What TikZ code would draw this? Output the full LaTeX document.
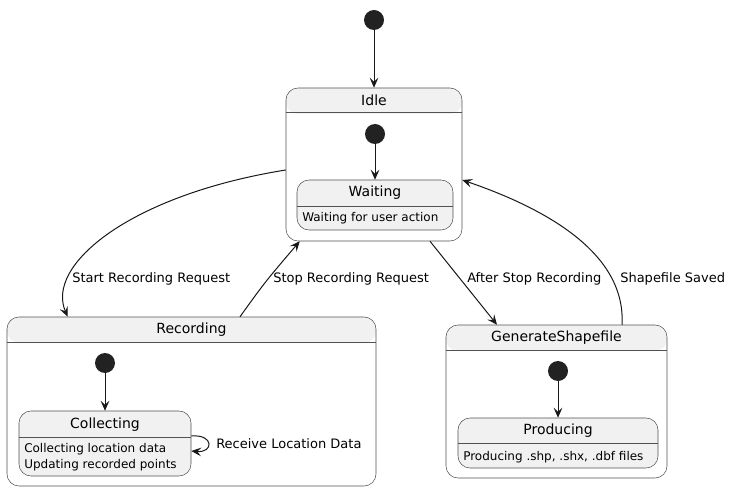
\documentclass[tikz,border=0pt]{standalone}
\usepackage{fontspec}
\setmainfont{DejaVu Sans}
\usetikzlibrary{arrows.meta,positioning,calc,fit}
\usepackage{xcolor}
\definecolor{stategray}{HTML}{F1F1F1}
\definecolor{lineblack}{HTML}{181818}
\definecolor{dotblack}{HTML}{222222}

\begin{document}
\begin{tikzpicture}[x=0.75pt,y=-0.75pt,
	composite/.style={draw=lineblack!75,line width=0.4pt,rounded corners=9pt,inner sep=0pt,fill=white,
		path picture={\fill[stategray] (path picture bounding box.north west) rectangle ([yshift=-19.5pt]path picture bounding box.north east);}},
	simple/.style={draw=lineblack!75,line width=0.4pt,rounded corners=9pt,inner sep=0pt,fill=stategray},
	sepline/.style={draw=lineblack!75,line width=0.4pt},
	initdot/.style={circle,fill=dotblack,minimum size=15pt,inner sep=0pt},
	title/.style={font=\fontsize{10.5}{12}\selectfont,inner sep=0pt},
	desc/.style={font=\fontsize{9}{12}\selectfont,inner sep=0pt,anchor=west,align=left},
	edgelabel/.style={font=\fontsize{9.75}{12}\selectfont,inner sep=0pt,anchor=west},
	trans/.style={-{Stealth[length=7.5pt,width=6.5pt,inset=3pt]},draw=lineblack,line width=0.75pt}]
	\useasboundingbox (0,0) rectangle (730,491);
	% states
	\node[composite,fit={(286,88) (462,241)}] (idle) {};
	\node[composite,fit={(7,317) (376,486)}] (rec) {};
	\node[composite,fit={(446,325) (667,478)}] (gen) {};
	\node[simple,fit={(297,180) (453,230)}] (waiting) {};
	\node[simple,fit={(19,411) (191,476)}] (coll) {};
	\node[simple,fit={(458,418) (658,468)}] (prod) {};
	\foreach \s/\h in {idle/25,rec/26,gen/26,waiting/27,coll/27,prod/26}
		\draw[sepline] ($(\s.north west)+(0,\h)$) -- ($(\s.north east)+(0,\h)$);
	% titles
	\node[title] (idlet) at ($(idle.north)+(0,12.5)$) {Idle};
	\node[title] (rect) at ($(rec.north)+(0,13)$) {Recording};
	\node[title] (gent) at ($(gen.north)+(0,13)$) {GenerateShapefile};
	\node[title] (waitingt) at ($(waiting.north)+(0,13)$) {Waiting};
	\node[title] (collt) at ($(coll.north)+(0,13.5)$) {Collecting};
	\node[title] (prodt) at ($(prod.north)+(0,13)$) {Producing};
	\node[desc] (waitingd) at (302,218) {Waiting for user action};
	\node[desc] (colld) at (24,457) {Collecting location data\\Updating recorded points};
	\node[desc] (prodd) at (463,457) {Producing .shp, .shx, .dbf files};
	% initial points
	\node[initdot] (start) at (374,20) {};
	\node[initdot] (idlei) at (375,134) {};
	\node[initdot] (reci) at (105,363) {};
	\node[initdot] (geni) at (558,371) {};
	\draw[trans] (start) -- (idle);
	\draw[trans] (idlei) -- (waiting);
	\draw[trans] (reci) -- (coll.north -| reci);
	\draw[trans] (geni) -- (prod.north -| geni);
	% transitions
	\draw[trans] ($(idle.west)+(0,5.5)$) .. controls (130,195) and (45,265) .. ($(rec.north west)+(61,0)$);
	\node[edgelabel] (startl) at (72,279) {Start Recording Request};
	\draw[trans] ($(rec.north)+(48.5,0)$) .. controls (265,282) .. ($(idle.south west)+(14,0)$);
	\node[edgelabel] (stopl) at (273,279) {Stop Recording Request};
	\draw[trans] ($(idle.south)+(56,0)$) -- ($(gen.north)+(-59.5,0)$);
	\node[edgelabel] (afterl) at (467,279) {After Stop Recording};
	\draw[trans] ($(gen.north)+(65.5,0)$) .. controls (626,255) and (550,210) .. ($(idle.east)+(0,15.5)$);
	\node[edgelabel] (savedl) at (620,279) {Shapefile Saved};
	\draw[trans] ($(coll.east)+(0,-7.5)$) .. controls (214,434) and (214,453) .. ($(coll.east)+(0,7.5)$);
	\node[edgelabel] (recvl) at (216,444) {Receive Location Data};
\end{tikzpicture}
\end{document}
